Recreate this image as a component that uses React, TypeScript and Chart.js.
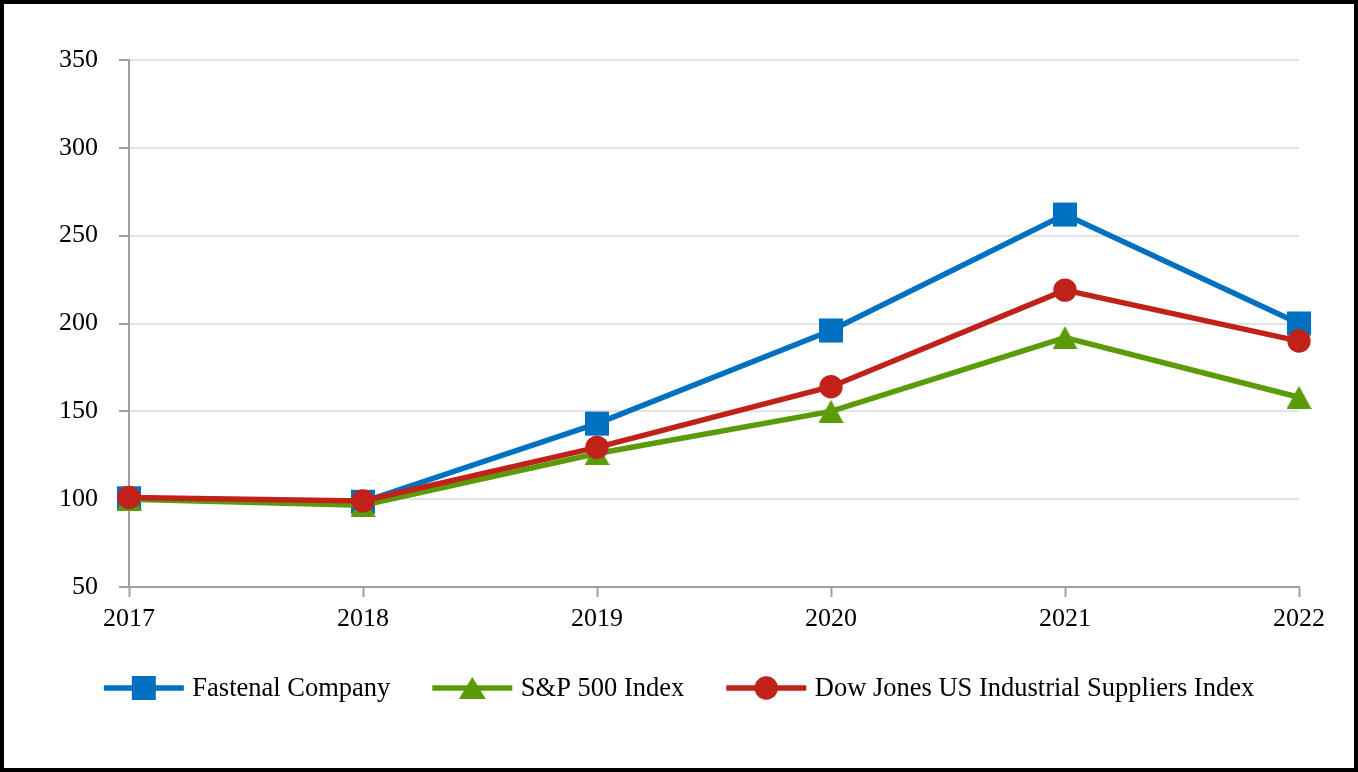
import React, { useEffect, useRef } from "react";
import { Chart, registerables } from "chart.js";

Chart.register(...registerables);

const years = ["2017", "2018", "2019", "2020", "2021", "2022"];
const fastenal = [100.5, 98.5, 143, 196, 262, 200];
const sp500 = [100, 96.5, 126, 150, 192, 158];
const djIndustrial = [101, 99, 129.5, 164, 219, 190];
const seriesNames = ["Fastenal Company", "S&P 500 Index", "Dow Jones US Industrial Suppliers Index"];
const yTicks = [50, 100, 150, 200, 250, 300, 350];

const BLUE = "#0070C0";
const GREEN = "#5B9B0A";
const RED = "#C0221A";
const FONT = '"Liberation Serif", "Times New Roman", serif';

function makeTriangle(w: number, h: number, color: string): HTMLCanvasElement {
  const c = document.createElement("canvas");
  c.width = w;
  c.height = h;
  const g = c.getContext("2d")!;
  g.fillStyle = color;
  g.beginPath();
  g.moveTo(w / 2, 0);
  g.lineTo(w, h);
  g.lineTo(0, h);
  g.closePath();
  g.fill();
  return c;
}

function drawMarker(ctx: CanvasRenderingContext2D, style: string, x: number, y: number, color: string) {
  ctx.fillStyle = color;
  ctx.beginPath();
  if (style === "rect") {
    const s = 12;
    ctx.rect(x - s, y - s, 2 * s, 2 * s);
  } else if (style === "triangle") {
    const w = 27;
    const h = 22;
    ctx.moveTo(x, y - h / 2);
    ctx.lineTo(x + w / 2, y + h / 2);
    ctx.lineTo(x - w / 2, y + h / 2);
    ctx.closePath();
  } else {
    ctx.arc(x, y, 11.7, 0, Math.PI * 2);
  }
  ctx.fill();
}

const legendPlugin = {
  id: "customLegend",
  afterDraw(chart: any) {
    const ctx: CanvasRenderingContext2D = chart.ctx;
    const items = [
      { text: seriesNames[0], color: BLUE, style: "rect" },
      { text: seriesNames[1], color: GREEN, style: "triangle" },
      { text: seriesNames[2], color: RED, style: "circle" },
    ];
    ctx.save();
    ctx.font = `26.5px ${FONT}`;
    const lineLen = 80;
    const gap = 8.5;
    const spacing = 42;
    const widths = items.map((it) => lineLen + gap + ctx.measureText(it.text).width);
    const total = widths.reduce((a, b) => a + b, 0) + spacing * (items.length - 1);
    let x = chart.width / 2 - total / 2;
    const y = 684;
    items.forEach((it, i) => {
      ctx.strokeStyle = it.color;
      ctx.lineWidth = 5.5;
      ctx.beginPath();
      ctx.moveTo(x, y);
      ctx.lineTo(x + lineLen, y);
      ctx.stroke();
      drawMarker(ctx, it.style, x + lineLen / 2, y, it.color);
      ctx.fillStyle = "#000";
      ctx.textAlign = "left";
      ctx.textBaseline = "middle";
      ctx.fillText(it.text, x + lineLen + gap, y + 1);
      x += widths[i] + spacing;
    });
    ctx.restore();
  },
};

export default function App() {
  const canvasRef = useRef<HTMLCanvasElement | null>(null);

  useEffect(() => {
    document.body.style.margin = "0";
    const canvas = canvasRef.current;
    if (!canvas) return;
    const triImg = makeTriangle(25, 23, GREEN);
    const chart = new Chart(canvas, {
      type: "line",
      data: {
        labels: years,
        datasets: [
          {
            label: seriesNames[0],
            data: fastenal,
            borderColor: BLUE,
            backgroundColor: BLUE,
            borderWidth: 5.5,
            pointStyle: "rect",
            pointRadius: 17,
            pointBorderWidth: 0,
            order: 2,
            clip: false,
          },
          {
            label: seriesNames[1],
            data: sp500,
            borderColor: GREEN,
            backgroundColor: GREEN,
            borderWidth: 5.5,
            pointStyle: triImg as any,
            pointRadius: 12,
            pointBorderWidth: 0,
            order: 1,
            clip: false,
          },
          {
            label: seriesNames[2],
            data: djIndustrial,
            borderColor: RED,
            backgroundColor: RED,
            borderWidth: 5.5,
            pointStyle: "circle",
            pointRadius: 11.7,
            pointBorderWidth: 0,
            order: 0,
            clip: false,
          },
        ],
      },
      options: {
        animation: false,
        responsive: false,
        maintainAspectRatio: false,
        layout: { padding: { top: 56, right: 55, bottom: 0, left: 0 } },
        plugins: { legend: { display: false }, tooltip: { enabled: false } },
        elements: { line: { tension: 0 } },
        scales: {
          x: {
            type: "category",
            offset: false,
            grid: {
              drawOnChartArea: false,
              drawTicks: true,
              tickLength: 10,
              tickColor: "#A0A0A0",
              tickWidth: 2,
            },
            border: { color: "#A0A0A0", width: 2 },
            ticks: {
              color: "#000",
              font: { family: FONT, size: 26 },
              padding: 7,
              maxRotation: 0,
              autoSkip: false,
            },
            afterFit(scale: any) {
              scale.height = 181;
            },
          },
          y: {
            min: 50,
            max: 350,
            afterBuildTicks(scale: any) {
              scale.ticks = yTicks.map((v) => ({ value: v }));
            },
            grid: {
              color: "#E3E3E3",
              lineWidth: 2,
              drawTicks: true,
              tickLength: 10,
              tickColor: "#A0A0A0",
              tickWidth: 2,
            },
            border: { color: "#A0A0A0", width: 2 },
            ticks: {
              color: "#000",
              font: { family: FONT, size: 26 },
              padding: 21,
            },
            afterFit(scale: any) {
              scale.width = 125;
            },
          },
        },
      },
      plugins: [legendPlugin],
    });
    return () => chart.destroy();
  }, []);

  return (
    <div
      style={{
        position: "absolute",
        left: 0,
        top: 0,
        width: 1358,
        height: 772,
        boxSizing: "border-box",
        border: "4px solid #000",
        background: "#fff",
      }}
    >
      <canvas ref={canvasRef} width={1350} height={764} style={{ display: "block", width: 1350, height: 764 }} />
    </div>
  );
}
